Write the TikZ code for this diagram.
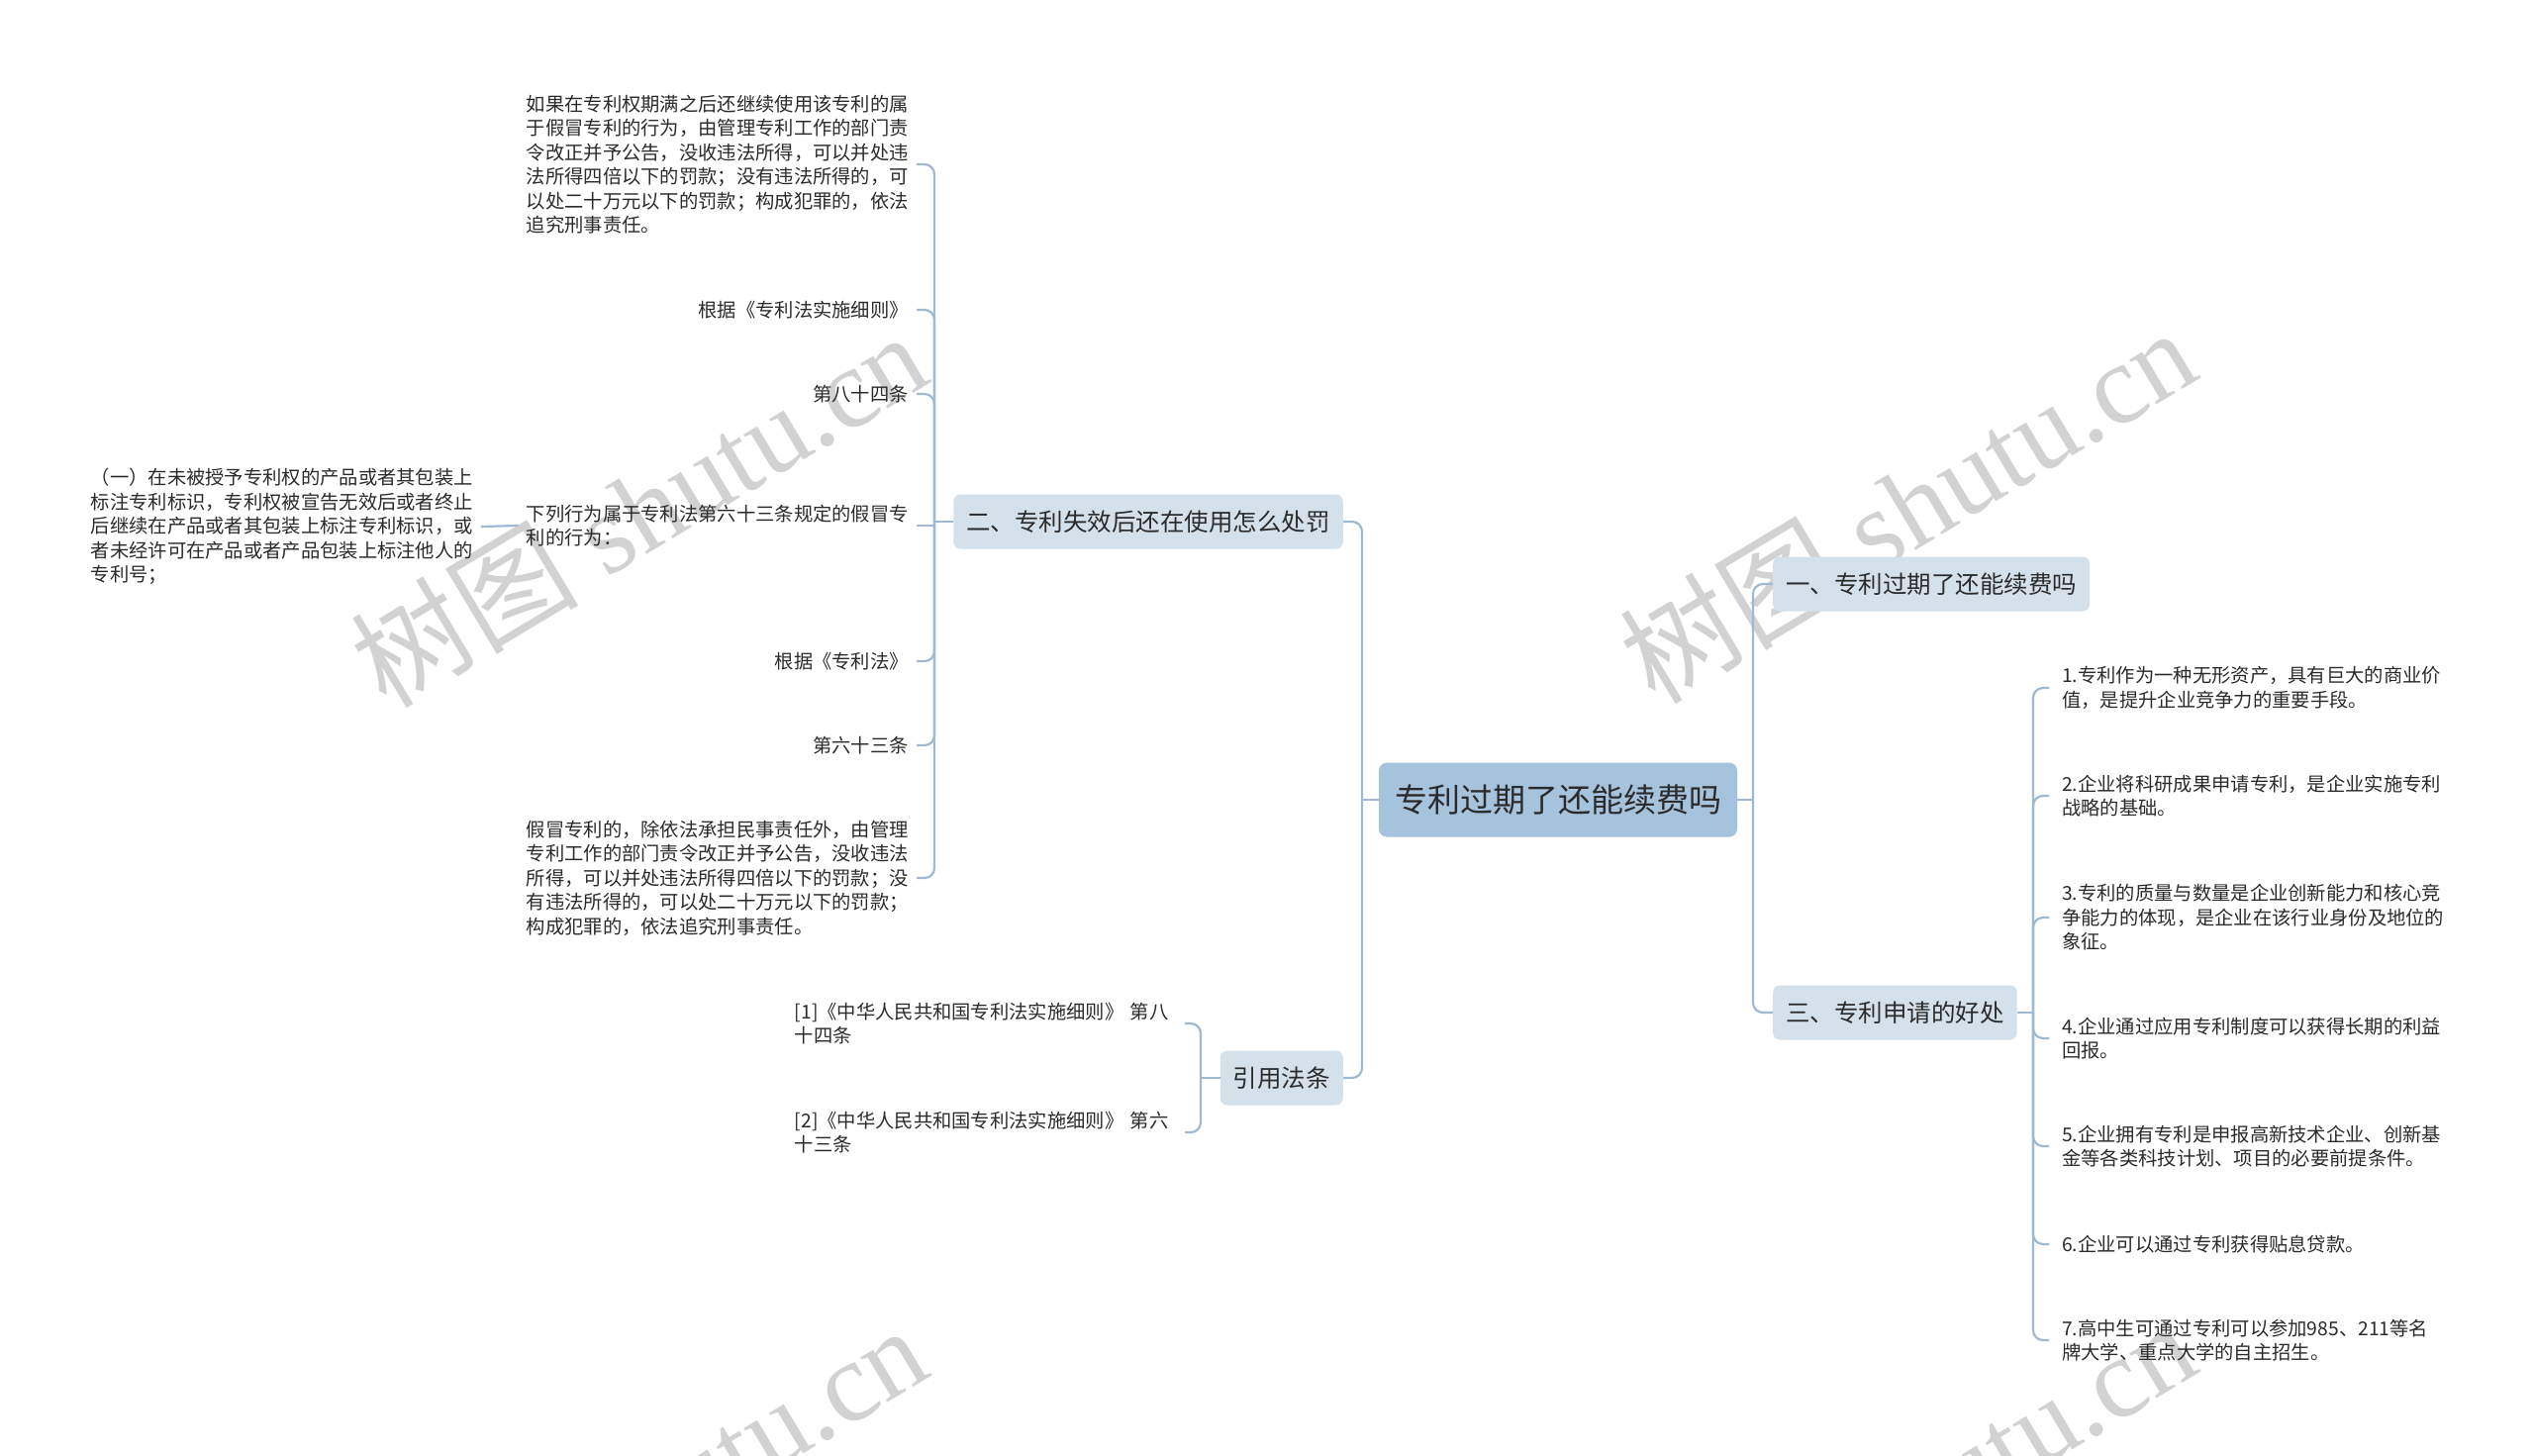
\documentclass[tikz,border=0pt]{standalone}
\usepackage{fontspec}
\setmainfont{Noto Sans CJK SC}
\newfontfamily\wmserif{Liberation Serif}
\newfontfamily\wmcjk{Noto Sans CJK SC}
\definecolor{rootc}{HTML}{A6C3DE}
\definecolor{brc}{HTML}{D5E1EA}
\definecolor{linec}{HTML}{9FB9D2}
\definecolor{txt}{HTML}{2B2B2B}
\definecolor{wmc}{HTML}{D2D2D2}
\begin{document}
\begin{tikzpicture}[x=1pt,y=-1pt,
  rootbox/.style={fill=rootc, rounded corners=8, minimum width=362, minimum height=75, inner sep=0, text=txt, font=\fontsize{33}{40}\selectfont},
  brbox/.style={fill=brc, rounded corners=7, minimum height=55, inner xsep=13, inner ysep=0, text=txt, font=\fontsize{24.5}{30}\selectfont},
  leaftxt/.style={align=left, inner ysep=0, text=txt, font=\fontsize{19.3}{24.5}\selectfont},
  leafR/.style={leaftxt, anchor=west, inner xsep=13},
  leafL/.style={leaftxt, anchor=east, inner xsep=8},
  conn/.style={draw=linec, line width=2.2, rounded corners=10},
  wm/.style={text=wmc, rotate=31, inner sep=0}]
\useasboundingbox (0,0) rectangle (2560,1471);
\fill[white] (0,0) rectangle (2560,1471);

% watermarks
\begin{scope}
\clip (0,0) rectangle (2560,1471);
\node[wm] (wm1) at (645,514) {\fontsize{115}{115}\selectfont\wmcjk 树图\wmserif\ shutu.cn};
\node[wm] (wm2) at (1927,510) {\fontsize{115}{115}\selectfont\wmcjk 树图\wmserif\ shutu.cn};
\node[wm] (wm3) at (645,1518) {\fontsize{115}{115}\selectfont\wmcjk 树图\wmserif\ shutu.cn};
\node[wm] (wm4) at (1927,1514) {\fontsize{115}{115}\selectfont\wmcjk 树图\wmserif\ shutu.cn};
\end{scope}

% root and main branches
\node[rootbox] (root) at (1574,808) {专利过期了还能续费吗};
\node[brbox, anchor=west] (b1) at (1791,590) {一、专利过期了还能续费吗};
\node[brbox, anchor=west] (b3) at (1791,1023) {三、专利申请的好处};
\node[brbox, anchor=east] (b2) at (1357,527) {二、专利失效后还在使用怎么处罚};
\node[brbox, anchor=east] (b4) at (1357,1089) {引用法条};

% right leaves
\node[leafR] (r1) at (2070,695) {1.专利作为一种无形资产，具有巨大的商业价\\值，是提升企业竞争力的重要手段。};
\node[leafR] (r2) at (2070,804) {2.企业将科研成果申请专利，是企业实施专利\\战略的基础。};
\node[leafR] (r3) at (2070,927) {3.专利的质量与数量是企业创新能力和核心竞\\争能力的体现，是企业在该行业身份及地位的\\象征。};
\node[leafR] (r4) at (2070,1049) {4.企业通过应用专利制度可以获得长期的利益\\回报。};
\node[leafR] (r5) at (2070,1158) {5.企业拥有专利是申报高新技术企业、创新基\\金等各类科技计划、项目的必要前提条件。};
\node[leafR] (r6) at (2070,1257) {6.企业可以通过专利获得贴息贷款。};
\node[leafR] (r7) at (2070,1354) {7.高中生可通过专利可以参加985、211等名\\牌大学、重点大学的自主招生。};

% left leaves
\node[leafL] (la) at (926,166) {如果在专利权期满之后还继续使用该专利的属\\于假冒专利的行为，由管理专利工作的部门责\\令改正并予公告，没收违法所得，可以并处违\\法所得四倍以下的罚款；没有违法所得的，可\\以处二十万元以下的罚款；构成犯罪的，依法\\追究刑事责任。};
\node[leafL] (lb) at (926,313) {根据《专利法实施细则》};
\node[leafL] (lc) at (926,398) {第八十四条};
\node[leafL] (ld) at (926,531) {下列行为属于专利法第六十三条规定的假冒专\\利的行为：};
\node[leafL] (le) at (926,668) {根据《专利法》};
\node[leafL] (lf) at (926,753) {第六十三条};
\node[leafL] (lg) at (926,887) {假冒专利的，除依法承担民事责任外，由管理\\专利工作的部门责令改正并予公告，没收违法\\所得，可以并处违法所得四倍以下的罚款；没\\有违法所得的，可以处二十万元以下的罚款；\\构成犯罪的，依法追究刑事责任。};
\node[leafL] (ld1) at (486,532) {（一）在未被授予专利权的产品或者其包装上\\标注专利标识，专利权被宣告无效后或者终止\\后继续在产品或者其包装上标注专利标识，或\\者未经许可在产品或者产品包装上标注他人的\\专利号；};

% references
\node[leafL, text width=386] (f1) at (1197,1034) {[1]《中华人民共和国专利法实施细则》 第八\\十四条};
\node[leafL, text width=386] (f2) at (1197,1144) {[2]《中华人民共和国专利法实施细则》 第六\\十三条};

% junctions
\coordinate (jR) at (1771,808);
\coordinate (jL) at (1376,808);
\coordinate (j3) at (2054,1023);
\coordinate (j2) at (944,527);
\coordinate (j4) at (1213,1089);

% connectors
\draw[conn] (root.east) -- (jR);
\draw[conn] (jR) |- (b1.west);
\draw[conn] (jR) |- (b3.west);
\draw[conn] (root.west) -- (jL);
\draw[conn] (jL) |- (b2.east);
\draw[conn] (jL) |- (b4.east);

\draw[conn] (b3.east) -- (j3);
\foreach \c in {r1,r2,r3,r4,r5,r6,r7} { \draw[conn] (j3) |- (\c.west); }

\draw[conn] (b2.west) -- (j2);
\foreach \c in {la,lb,lc,le,lf,lg} { \draw[conn] (j2) |- (\c.east); }
\draw[conn] (ld.east -| j2) -- (ld.east);
\draw[conn] (ld.west) -- (ld1.east);

\draw[conn] (b4.west) -- (j4);
\draw[conn] (j4) |- (f1.east);
\draw[conn] (j4) |- (f2.east);
\end{tikzpicture}
\end{document}
